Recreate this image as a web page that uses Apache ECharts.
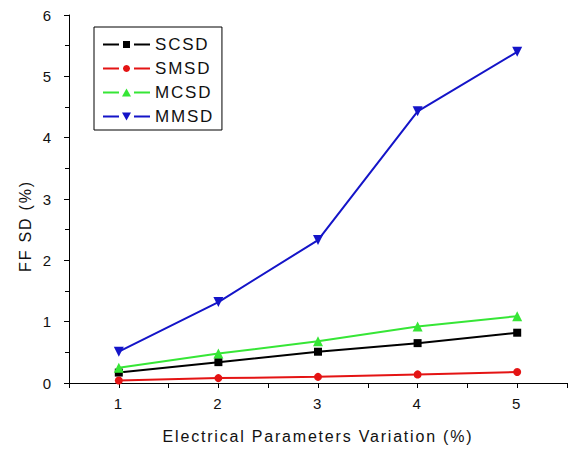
<!DOCTYPE html>
<html style="height: 100%">
<head>
  <meta charset="utf-8">
  <script src="https://cdn.jsdelivr.net/npm/echarts@6/dist/echarts.min.js"></script>
  <style>
/* the original figure uses widely spaced lettering */
#container text {
    letter-spacing: 1.8px;
}
  </style>
</head>
<body style="height: 100%; margin: 0; background: #fff">
  <div id="container" style="width: 573px; height: 451px"></div>
  <script type="text/javascript">
// data
var variation = [1, 2, 3, 4, 5];
var scsd = [0.17, 0.34, 0.51, 0.65, 0.82];
var smsd = [0.04, 0.08, 0.10, 0.14, 0.18];
var mcsd = [0.25, 0.48, 0.68, 0.92, 1.09];
var mmsd = [0.51, 1.32, 2.33, 4.43, 5.40];

function pairs(ys) {
    return variation.map(function (x, i) { return [x, ys[i]]; });
}

// legend icons: line - gap - marker - gap - line (box 47 x 8)
var lines = 'M0 3L16 3L16 5L0 5Z M31 3L47 3L47 5L31 5Z ';
var icons = {
    SCSD: 'path://' + lines + 'M20 0.5L27 0.5L27 7.5L20 7.5Z M20 0L20 8',
    SMSD: 'path://' + lines + 'M23.5 0.5A3.5 3.5 0 1 1 23.49 0.5Z M20 0L20 8',
    MCSD: 'path://' + lines + 'M23.5 0L28 8L19 8Z',
    MMSD: 'path://' + lines + 'M19 0L28 0L23.5 8Z'
};

var font = 'Liberation Sans, Arial, sans-serif';
var dom = document.getElementById('container');
var myChart = echarts.init(dom, null, { renderer: 'svg' });

var option = {
    animation: false,
    grid: { left: 69, right: 6, top: 15, bottom: 68 },
    legend: {
        orient: 'vertical',
        left: 94,
        top: 27,
        padding: [9, 15, 5, 9],
        itemGap: 7,
        itemWidth: 47,
        itemHeight: 8,
        borderColor: '#000',
        borderWidth: 1,
        textStyle: { fontFamily: font, fontSize: 17, color: '#111' },
        data: ['SCSD', 'SMSD', 'MCSD', 'MMSD'].map(function (n) {
            return { name: n, icon: icons[n] };
        })
    },
    xAxis: {
        type: 'value',
        min: 0.5,
        max: 5.5,
        interval: 0.5,
        name: 'Electrical Parameters Variation (%)',
        nameLocation: 'middle',
        nameGap: 45,
        nameTextStyle: { fontFamily: font, fontSize: 16, color: '#111' },
        axisLine: { lineStyle: { color: '#000' } },
        axisTick: { length: 5, lineStyle: { color: '#000' } },
        axisLabel: {
            fontFamily: font, fontSize: 15, color: '#111', margin: 13,
            formatter: function (v) { return v % 1 === 0 ? String(v) : ''; }
        },
        splitLine: { show: false }
    },
    yAxis: {
        type: 'value',
        min: 0,
        max: 6,
        interval: 1,
        name: 'FF SD (%)',
        nameLocation: 'middle',
        nameGap: 36,
        nameTextStyle: { fontFamily: font, fontSize: 16, color: '#111', padding: [0, 54, 0, 0] },
        axisLine: { show: true, lineStyle: { color: '#000' } },
        axisTick: { show: true, length: 5, lineStyle: { color: '#000' } },
        minorTick: { show: true, splitNumber: 2, length: 4, lineStyle: { color: '#000' } },
        axisLabel: { fontFamily: font, fontSize: 15, color: '#111', margin: 16 },
        splitLine: { show: false }
    },
    series: [
        {
            name: 'SCSD', type: 'line', data: pairs(scsd),
            symbol: 'rect', symbolSize: 8,
            lineStyle: { width: 2, color: '#000' },
            itemStyle: { color: '#000' }
        },
        {
            name: 'SMSD', type: 'line', data: pairs(smsd),
            symbol: 'circle', symbolSize: 8,
            lineStyle: { width: 2, color: '#e41414' },
            itemStyle: { color: '#e41414' }
        },
        {
            name: 'MCSD', type: 'line', data: pairs(mcsd),
            symbol: 'triangle', symbolSize: 10,
            lineStyle: { width: 2, color: '#36e636' },
            itemStyle: { color: '#36e636' }
        },
        {
            name: 'MMSD', type: 'line', data: pairs(mmsd),
            symbol: 'triangle', symbolRotate: 180, symbolSize: 10,
            lineStyle: { width: 2, color: '#1414c8' },
            itemStyle: { color: '#1414c8' }
        }
    ]
};

myChart.setOption(option);
  </script>
</body>
</html>
